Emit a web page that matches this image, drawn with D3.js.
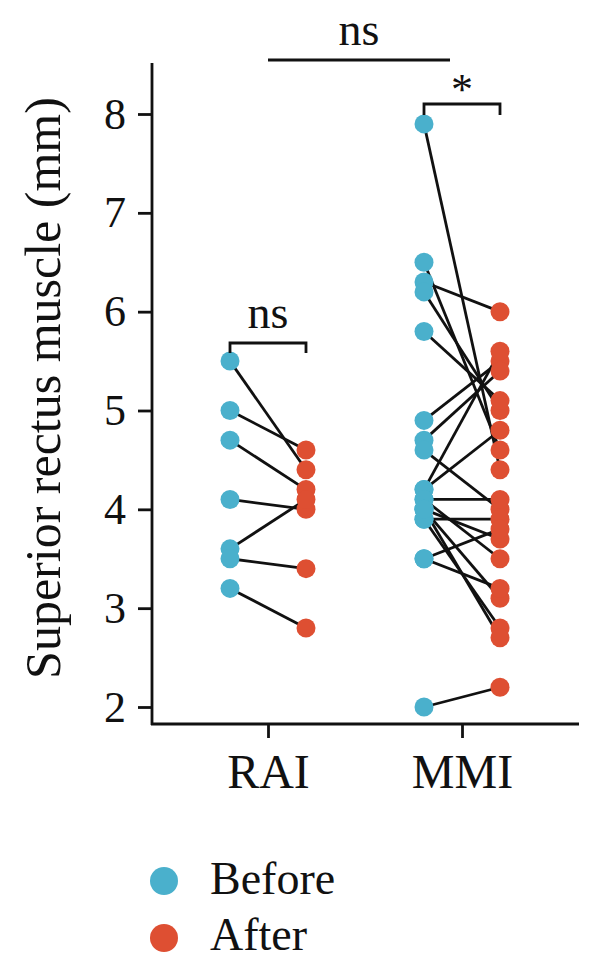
<!DOCTYPE html>
<html>
<head>
<meta charset="utf-8" />
<title>Superior rectus muscle</title>
<script src="https://cdn.jsdelivr.net/npm/d3@7"></script>
<style>
  body { margin: 0; background: #fff; }
  text { font-family: "Liberation Serif", "DejaVu Serif", serif; fill: #111; }
</style>
</head>
<body>
<div id="chart"></div>
<script>
// groups and tick labels
var groups = ["RAI", "MMI"];
var yTicks = [2, 3, 4, 5, 6, 7, 8];

// paired values, before -> after
var raiBefore = [5.5, 5.0, 4.7, 4.1, 3.6, 3.5, 3.2];
var raiAfter  = [4.4, 4.6, 4.2, 4.0, 4.1, 3.4, 2.8];

var mmiBefore = [7.9, 6.5, 6.3, 6.2, 5.8, 4.9, 4.7, 4.6, 4.2, 4.2, 4.1, 4.1, 4.0, 4.0, 3.9, 3.9, 4.0, 3.5, 3.5, 2.0];
var mmiAfter  = [4.4, 4.6, 6.0, 5.0, 5.1, 5.5, 5.4, 4.0, 5.6, 4.8, 4.1, 3.5, 3.7, 3.1, 3.9, 2.8, 2.7, 3.8, 3.2, 2.2];

var legendLabels = ["Before", "After"];
var blue = "#4ab0cc", red = "#de4f32";

var W = 600, H = 974;
var svg = d3.select("#chart").append("svg")
    .attr("width", W).attr("height", H);

var y = d3.scaleLinear().domain([2, 8]).range([707, 114]);
var x = d3.scalePoint().domain(groups).range([268, 462]);
var off = 38;

var pairs = [];
raiBefore.forEach(function(v, i) { pairs.push({g: "RAI", b: v, a: raiAfter[i]}); });
mmiBefore.forEach(function(v, i) { pairs.push({g: "MMI", b: v, a: mmiAfter[i]}); });

// axes
var axisX0 = 152, axisY0 = 724;
svg.append("line")
    .attr("x1", axisX0).attr("x2", axisX0)
    .attr("y1", 63).attr("y2", axisY0 + 1)
    .attr("stroke", "#111").attr("stroke-width", 2.8);
svg.append("line")
    .attr("x1", axisX0 - 1).attr("x2", 579)
    .attr("y1", axisY0).attr("y2", axisY0)
    .attr("stroke", "#111").attr("stroke-width", 2.8);

var gy = svg.append("g").attr("transform", "translate(" + axisX0 + ",0)")
    .call(d3.axisLeft(y).tickValues(yTicks).tickSize(14).tickPadding(12).tickFormat(d3.format("d")));
gy.select(".domain").remove();
gy.selectAll(".tick line").attr("stroke", "#111").attr("stroke-width", 2.8);
gy.selectAll(".tick text").style("font-size", "44px")
    .style("font-family", "Liberation Serif, serif").attr("fill", "#111");

var gx = svg.append("g").attr("transform", "translate(0," + axisY0 + ")")
    .call(d3.axisBottom(x).tickSize(14).tickPadding(16));
gx.select(".domain").remove();
gx.selectAll(".tick line").attr("stroke", "#111").attr("stroke-width", 2.8);
gx.selectAll(".tick text").style("font-size", "48px")
    .style("font-family", "Liberation Serif, serif").attr("fill", "#111")
    .attr("dy", "0.71em");

svg.append("text")
    .attr("transform", "translate(60,388) rotate(-90)")
    .attr("text-anchor", "middle")
    .style("font-size", "50px")
    .text("Superior rectus muscle (mm)");

// connecting lines
svg.append("g").selectAll("line").data(pairs).enter().append("line")
    .attr("x1", function(d) { return x(d.g) - off; })
    .attr("y1", function(d) { return y(d.b); })
    .attr("x2", function(d) { return x(d.g) + off; })
    .attr("y2", function(d) { return y(d.a); })
    .attr("stroke", "#111").attr("stroke-width", 2.8);

// points
svg.append("g").selectAll("circle").data(pairs).enter().append("circle")
    .attr("cx", function(d) { return x(d.g) - off; })
    .attr("cy", function(d) { return y(d.b); })
    .attr("r", 9.5).attr("fill", blue);
svg.append("g").selectAll("circle").data(pairs).enter().append("circle")
    .attr("cx", function(d) { return x(d.g) + off; })
    .attr("cy", function(d) { return y(d.a); })
    .attr("r", 9.5).attr("fill", red);

// significance brackets
function bracket(x1, x2, yy, drop, label, ly, fs) {
  svg.append("path")
      .attr("d", "M" + x1 + "," + (yy + drop) + "V" + yy + "H" + x2 + "V" + (yy + drop))
      .attr("fill", "none").attr("stroke", "#111").attr("stroke-width", 2.8);
  svg.append("text").attr("x", (x1 + x2) / 2).attr("y", ly)
      .attr("text-anchor", "middle").style("font-size", fs + "px").text(label);
}
bracket(x("RAI") - off, x("RAI") + off, 343, 10, "ns", 328, 46);
bracket(x("MMI") - off, x("MMI") + off, 104, 11, "*", 104, 44);
bracket(x("RAI"), 450, 60, 0, "ns", 45, 46);

// legend
var lg = svg.append("g");
legendLabels.forEach(function(t, i) {
  lg.append("circle").attr("cx", 164).attr("cy", 881 + i * 57).attr("r", 14)
      .attr("fill", i === 0 ? blue : red);
  lg.append("text").attr("x", 210).attr("y", 894 + i * 56)
      .style("font-size", "46px").text(t);
});
</script>
</body>
</html>
